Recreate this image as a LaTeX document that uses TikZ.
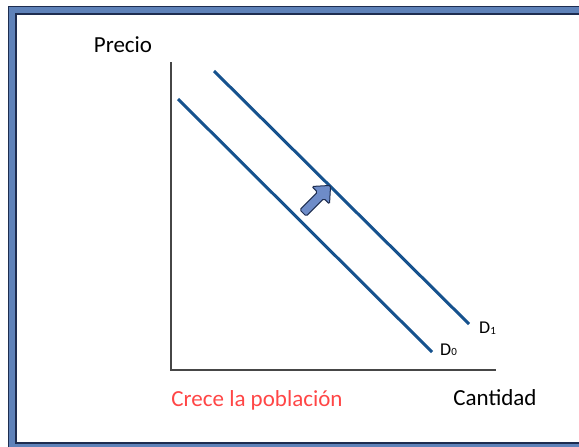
\documentclass[tikz,border=0pt]{standalone}
\usepackage{fontspec}
\setmainfont{Carlito}
\usetikzlibrary{calc}

\definecolor{framebl}{RGB}{95,130,185}
\definecolor{framedk}{RGB}{30,45,80}
\definecolor{demand}{RGB}{22,82,142}
\definecolor{axisgr}{RGB}{70,70,70}
\definecolor{growred}{RGB}{255,70,70}
\definecolor{arrowbl}{RGB}{110,140,200}

\tikzset{
  demandline/.style={line width=3pt, color=demand},
  axisline/.style={line width=2pt, color=axisgr},
  lbl/.style={font=\fontsize{23}{25}\selectfont, inner sep=0pt},
  dlbl/.style={font=\fontsize{18}{19}\selectfont, inner sep=0pt, anchor=west}
}

\begin{document}
\begin{tikzpicture}[x=1pt,y=-1pt]
		%%%%% START %%%%%
		\useasboundingbox (0,0) rectangle (579,447);
		\clip (0,0) rectangle (579,447);
		
		% frame
		\draw[line width=8pt, color=framebl] (12,10) rectangle (590,447);
		\draw[line width=1pt, color=framedk] (8,6) rectangle (594,451);
		\draw[line width=1.2pt, color=framedk] (16,14) rectangle (586,443);
		
		% axes
		\coordinate (ytop) at (171,62);
		\coordinate (origin) at (171,370);
		\coordinate (xend) at (496,370);
		\draw[axisline] (ytop) -- (origin) -- (xend);
		
		% demand curves
		\coordinate (dzeroA) at (178,99);
		\coordinate (dzeroB) at (432,352);
		\coordinate (doneA) at (214,71);
		\coordinate (doneB) at (469,324);
		\draw[demandline] (dzeroA) -- (dzeroB);
		\draw[demandline] (doneA) -- (doneB);
		
		\node[dlbl] (dzero) at (440,350) {D\raisebox{-0.5pt}{\fontsize{11}{11}\selectfont 0}};
		\node[dlbl] (done) at (479,328) {D\raisebox{-0.5pt}{\fontsize{11}{11}\selectfont 1}};
		
		% shift arrow
		\begin{scope}[shift={(303,213)}, rotate=45]
			\draw[fill=arrowbl, draw=framedk, line width=1pt, rounded corners=1.5pt]
				(0,-4.5) -- (25,-4.5) -- (25,-12.5) -- (39,0) -- (25,12.5) -- (25,4.5) -- (0,4.5) -- cycle;
		\end{scope}
		
		% labels
		\node[lbl] (precio) at (123,45) {Precio};
		\node[lbl, text=growred] (crece) at (257,400) {Crece la población};
		\node[lbl] (cantidad) at (495,398) {Cantidad};
		
		%%%%% END %%%%%
\end{tikzpicture}
\end{document}
